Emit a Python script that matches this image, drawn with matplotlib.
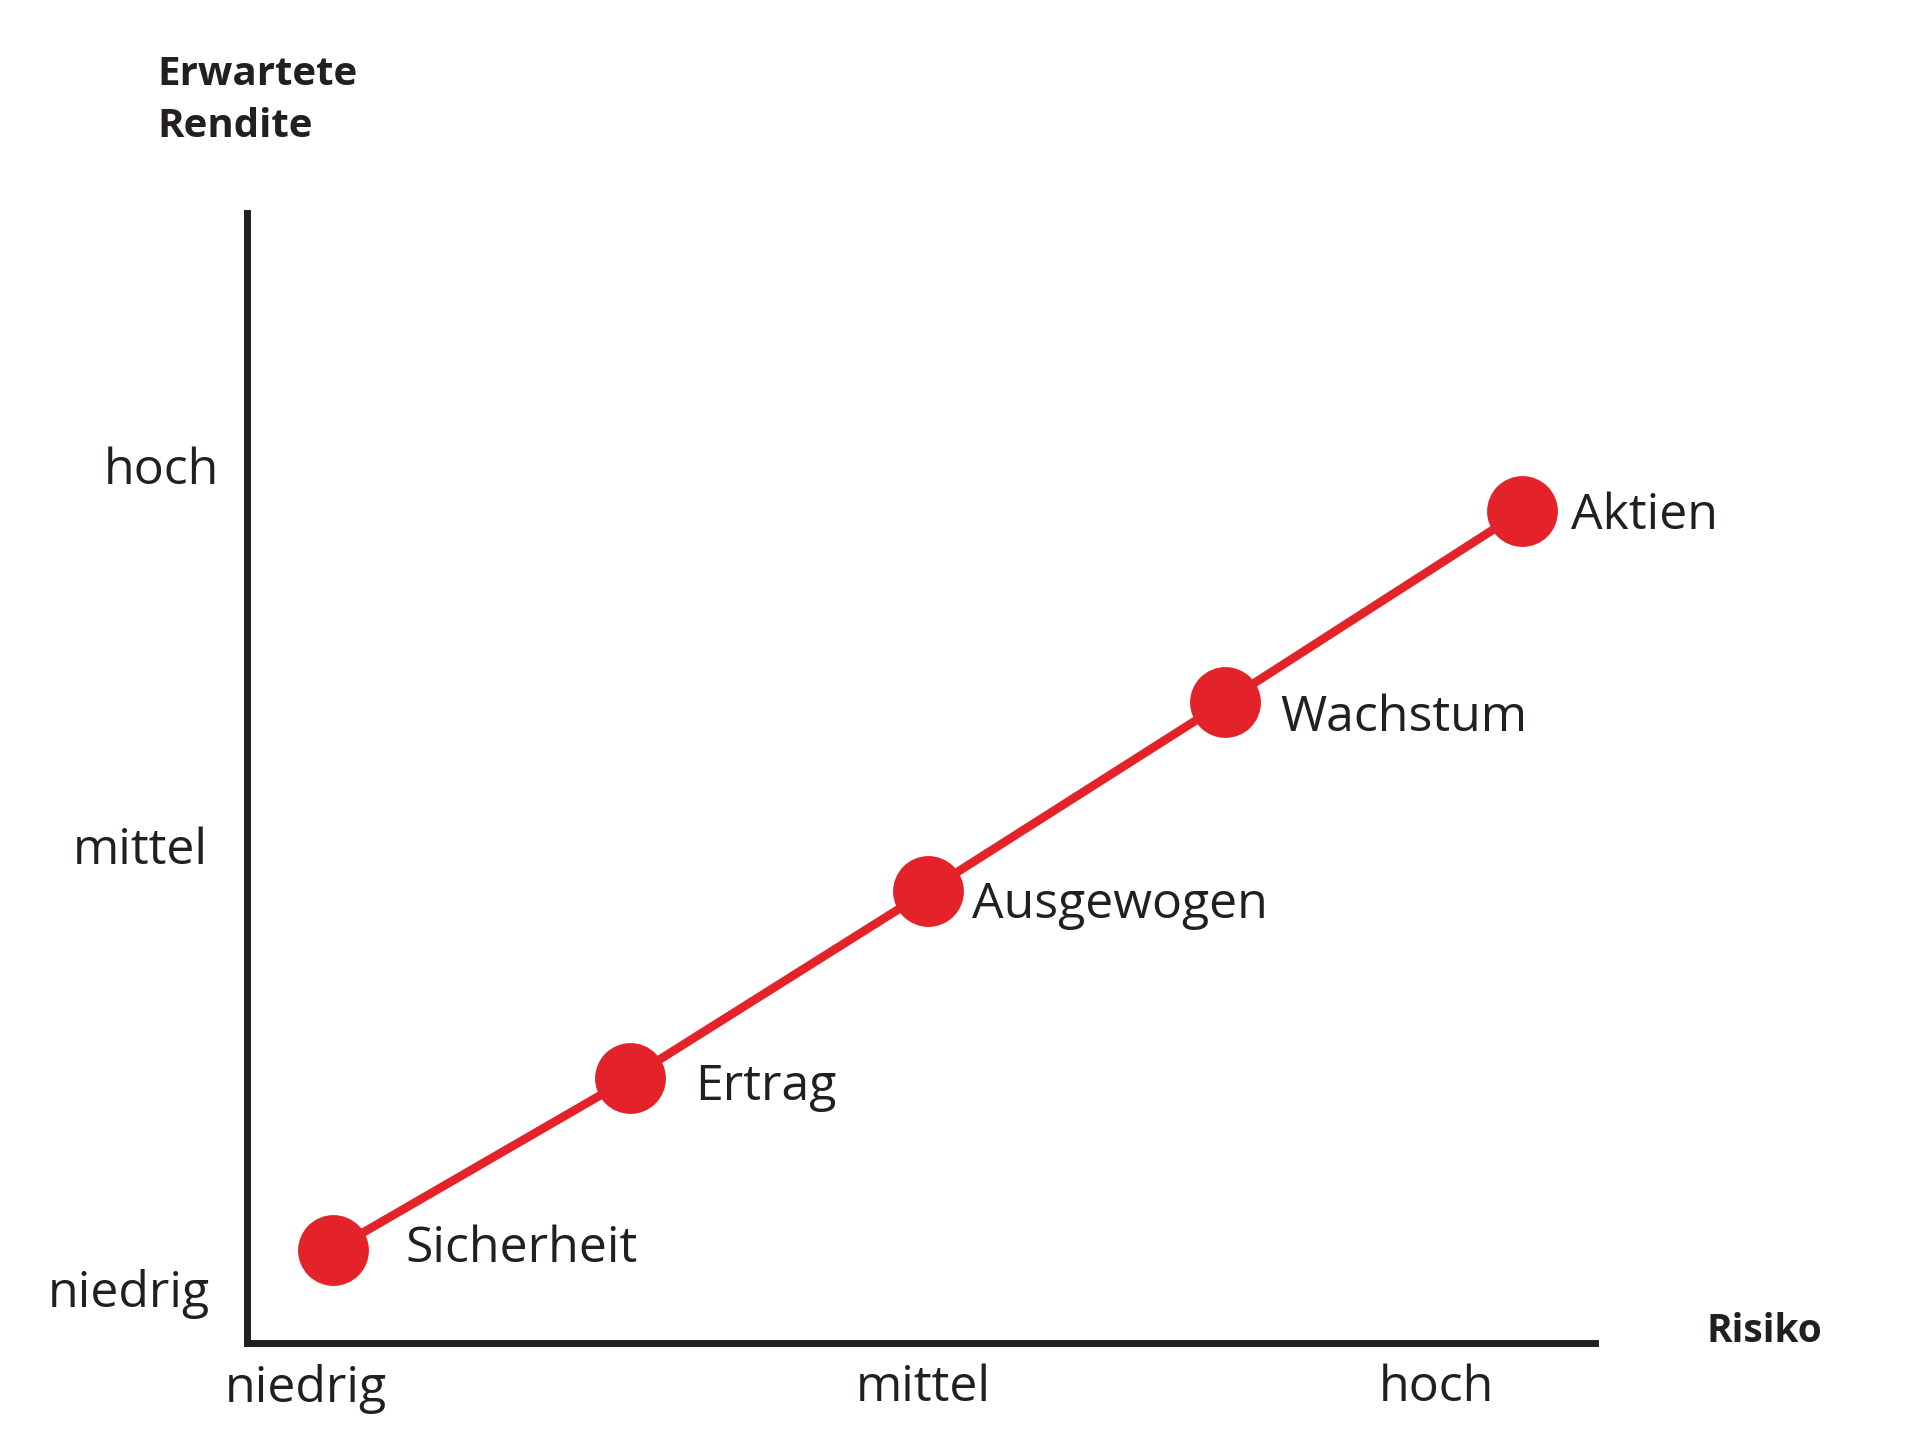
import matplotlib
matplotlib.use("Agg")
import matplotlib.pyplot as plt
from matplotlib.transforms import ScaledTranslation

# ---- data ----
profiles = ["Sicherheit", "Ertrag", "Ausgewogen", "Wachstum", "Aktien"]
risk = [1, 2, 3, 4, 5]
expected_return = [0.93, 2.65, 4.52, 6.41, 8.32]

x_tick_pos = [0.91, 2.985, 4.71]
x_tick_labels = ["niedrig", "mittel", "hoch"]
y_tick_pos = [0.55, 4.98, 8.78]
y_tick_labels = ["niedrig", "mittel", "hoch"]

y_title_lines = ["Erwartete", "Rendite"]
x_title = "Risiko"

# ---- style ----
RED = "#E42229"
INK = "#231F20"
FONT = ["Open Sans", "DejaVu Sans"]
plt.rcParams["font.family"] = FONT

fig = plt.figure(figsize=(19.2, 14.45), dpi=100)
ax = fig.add_axes([247 / 1920, 1 - 1343 / 1445, 1348 / 1920, 1130 / 1445])
ax.set_xlim(0.711, 5.245)
ax.set_ylim(0, 11.3)

ax.plot(risk, expected_return, color=RED, lw=6.2, solid_capstyle="butt", zorder=2)
ax.plot(risk, expected_return, "o", color=RED, markersize=51, markeredgewidth=0, zorder=3)

label_offsets = [(52, 0.5), (47, -6.5), (32, -10.5), (40, -11.5), (35, -3.5)]
for name, x, y, (dx, dy) in zip(profiles, risk, expected_return, label_offsets):
    ax.annotate(name, (x, y), xytext=(dx, dy), textcoords="offset points",
                ha="left", va="center", fontsize=36, color=INK)

for side in ["top", "right"]:
    ax.spines[side].set_visible(False)
for side in ["left", "bottom"]:
    ax.spines[side].set_linewidth(5)
    ax.spines[side].set_color(INK)
    ax.spines[side].set_capstyle("projecting")

ax.set_xticks(x_tick_pos)
ax.set_xticklabels(x_tick_labels, fontsize=36, color=INK)
ax.set_yticks(y_tick_pos)
ax.set_yticklabels(y_tick_labels, fontsize=36, color=INK)
ax.tick_params(axis="x", length=0, pad=15)
ax.tick_params(axis="y", length=0, pad=26)

# small per-label horizontal nudges of the y tick labels (points)
y_label_nudges = [-1, -2, 6]
for lbl, nudge in zip(ax.get_yticklabels(), y_label_nudges):
    lbl.set_transform(lbl.get_transform() + ScaledTranslation(nudge / 72, 0, fig.dpi_scale_trans))

title_baselines = [85, 137]
for line, yb in zip(y_title_lines, title_baselines):
    fig.text(157 / 1920, 1 - yb / 1445, line, ha="left", va="baseline",
             fontsize=29, fontweight="bold", color=INK)
fig.text(1707 / 1920, 1 - 1342 / 1445, x_title, ha="left", va="baseline",
         fontsize=28, fontweight="bold", color=INK)

fig.savefig("out.png", dpi=100, facecolor="white")
